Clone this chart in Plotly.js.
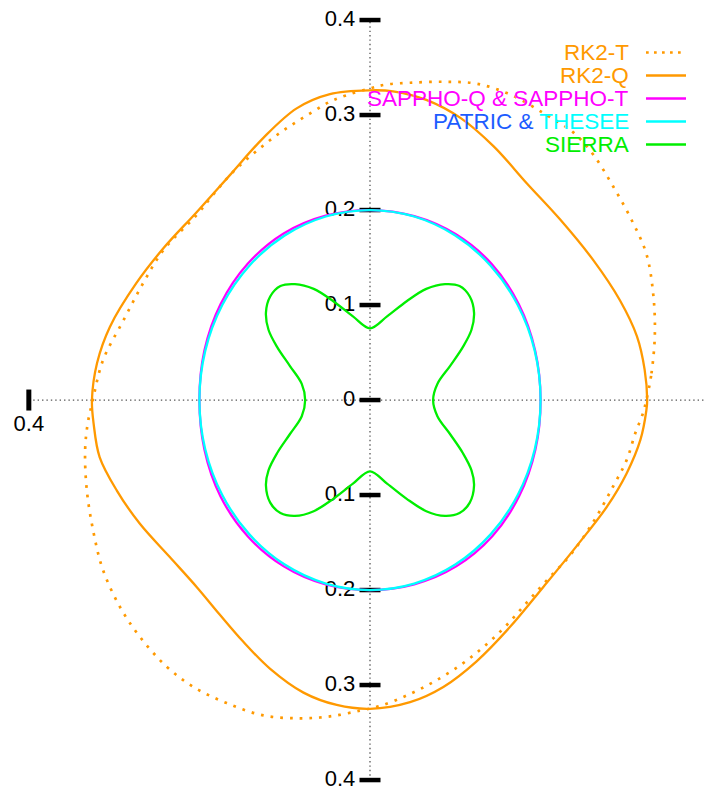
<!DOCTYPE html>
<html><head><meta charset="utf-8">
<script src="https://cdn.plot.ly/plotly-3.0.1.min.js"></script>
<style>html,body{margin:0;padding:0;background:#fff}#chart{width:704px;height:794px}</style>
</head><body><div id="chart"></div>
<script>
// ---- tick data ----
const yTickVals = [0.4, 0.3, 0.2, 0.1, 0, -0.1, -0.2, -0.3, -0.4];
const yTickLabels = ['0.4', '0.3', '0.2', '0.1', '0', '0.1', '0.2', '0.3', '0.4'];
const xTickVals = [-0.4];
const xTickLabels = ['0.4'];

// ---- series names ----
const seriesNames = ['RK2-T', 'RK2-Q', 'SAPPHO-Q & SAPPHO-T', 'PATRIC & THESEE', 'SIERRA'];

// ---- RK2-T (dotted) ----
const rk2tX = [0.324, 0.330, 0.334, 0.332, 0.324, 0.307, 0.285, 0.262, 0.238, 0.207, 0.166, 0.125, 0.086, 0.047, 0.018, 0.000,
  -0.027, -0.047, -0.066, -0.086, -0.106, -0.125, -0.145, -0.164, -0.184, -0.203, -0.242, -0.266, -0.289, -0.313, -0.325,
  -0.331, -0.334, -0.332, -0.324, -0.313, -0.293, -0.270, -0.238, -0.207, -0.168, -0.125, -0.082, -0.047, -0.012,
  0.012, 0.043, 0.074, 0.106, 0.133, 0.158, 0.182, 0.207, 0.235, 0.262, 0.285, 0.301, 0.311, 0.320, 0.324];
const rk2tY = [0.000, 0.028, 0.070, 0.112, 0.154, 0.189, 0.225, 0.258, 0.282, 0.300, 0.321, 0.333, 0.335, 0.334, 0.332, 0.328,
  0.321, 0.314, 0.304, 0.293, 0.281, 0.268, 0.253, 0.237, 0.216, 0.195, 0.158, 0.123, 0.084, 0.042, 0.000,
  -0.025, -0.053, -0.095, -0.140, -0.179, -0.218, -0.249, -0.281, -0.302, -0.319, -0.332, -0.335, -0.333, -0.327,
  -0.322, -0.311, -0.297, -0.279, -0.260, -0.239, -0.215, -0.190, -0.163, -0.128, -0.091, -0.063, -0.035, -0.014, 0.000];

// ---- RK2-Q (solid) ----
const rk2qX = [0.325, 0.322, 0.313, 0.293, 0.262, 0.223, 0.184, 0.145, 0.106, 0.066, 0.027, 0.000,
  -0.047, -0.086, -0.125, -0.164, -0.203, -0.242, -0.274, -0.305, -0.320, -0.326,
  -0.324, -0.317, -0.297, -0.270, -0.235, -0.203, -0.176, -0.149, -0.117, -0.078, -0.039, 0.000,
  0.047, 0.086, 0.125, 0.164, 0.203, 0.242, 0.278, 0.301, 0.317, 0.324, 0.325];
const rk2qY = [0.000, 0.032, 0.067, 0.105, 0.147, 0.190, 0.228, 0.267, 0.297, 0.316, 0.325, 0.326,
  0.322, 0.307, 0.276, 0.237, 0.198, 0.160, 0.123, 0.077, 0.039, 0.000,
  -0.025, -0.060, -0.095, -0.130, -0.165, -0.197, -0.226, -0.254, -0.283, -0.308, -0.321, -0.325,
  -0.318, -0.302, -0.275, -0.239, -0.197, -0.154, -0.112, -0.077, -0.042, -0.011, 0.000];

// ---- near-circular curves, given as angle (deg) / radius ----
const circleThetaDeg = [0, 15, 30, 45, 60, 75, 90, 105, 120, 135, 150, 165, 180, 195, 210, 225, 240, 255, 270, 285, 300, 315, 330, 345, 360];
const sapphoR = [0.200, 0.2005, 0.2015, 0.2022, 0.2015, 0.2005, 0.200, 0.201, 0.2025, 0.2028, 0.2022, 0.201, 0.200,
  0.201, 0.2025, 0.2028, 0.2022, 0.201, 0.200, 0.2008, 0.2022, 0.2028, 0.202, 0.2008, 0.200];
const patricR = [0.200, 0.200, 0.200, 0.200, 0.200, 0.200, 0.200, 0.200, 0.200, 0.200, 0.200, 0.200, 0.200,
  0.200, 0.200, 0.200, 0.200, 0.200, 0.200, 0.200, 0.200, 0.200, 0.200, 0.200, 0.200];

// ---- SIERRA ----
const sierraX = [0.074, 0.079, 0.094, 0.109, 0.119, 0.122, 0.117, 0.105, 0.088, 0.066, 0.043, 0.020, 0.000,
  -0.020, -0.043, -0.066, -0.088, -0.105, -0.117, -0.122, -0.119, -0.109, -0.094, -0.080, -0.076,
  -0.080, -0.094, -0.109, -0.119, -0.122, -0.117, -0.105, -0.088, -0.066, -0.043, -0.020, 0.000,
  0.020, 0.043, 0.066, 0.088, 0.105, 0.117, 0.122, 0.119, 0.109, 0.094, 0.079, 0.074];
const sierraY = [0.000, 0.017, 0.036, 0.056, 0.074, 0.092, 0.109, 0.120, 0.122, 0.117, 0.104, 0.088, 0.0755,
  0.088, 0.104, 0.117, 0.122, 0.120, 0.109, 0.092, 0.074, 0.056, 0.036, 0.017, 0.000,
  -0.017, -0.036, -0.056, -0.074, -0.090, -0.108, -0.119, -0.122, -0.117, -0.104, -0.088, -0.075,
  -0.088, -0.104, -0.117, -0.122, -0.119, -0.108, -0.090, -0.074, -0.056, -0.036, -0.017, 0.000];

// ---- styling ----
const FONT = 'Liberation Sans, Arial, sans-serif';
const ORANGE = '#ff9900', MAGENTA = '#ff00ff', CYAN = '#00ffff', GREEN = '#00ee00', BLUE = '#1c5cff';
const xRange = [-0.4338, 0.3916];
const yRange = [-0.4147, 0.4211];

function polarX(th, r) { return th.map((t, i) => r[i] * Math.cos(t * Math.PI / 180)); }
function polarY(th, r) { return th.map((t, i) => r[i] * Math.sin(t * Math.PI / 180)); }

const traces = [
  // y-axis ticks
  { x: yTickVals.map(() => 0), y: yTickVals, mode: 'markers', hoverinfo: 'skip',
    marker: { symbol: 'line-ew', size: 15, color: '#000', line: { width: 4.5, color: '#000' } } },
  // x-axis tick
  { x: xTickVals, y: xTickVals.map(() => 0), mode: 'markers', hoverinfo: 'skip',
    marker: { symbol: 'line-ns', size: 15, color: '#000', line: { width: 5, color: '#000' } } },
  // y tick labels
  { x: yTickVals.map(() => 0), y: yTickVals, mode: 'markers+text', text: yTickLabels, textposition: 'middle left',
    hoverinfo: 'skip', marker: { size: 22, color: 'rgba(0,0,0,0)' }, textfont: { family: FONT, size: 22, color: '#000' } },
  // x tick labels
  { x: xTickVals, y: xTickVals.map(() => 0), mode: 'markers+text', text: xTickLabels, textposition: 'bottom center',
    hoverinfo: 'skip', marker: { size: 21, color: 'rgba(0,0,0,0)' }, textfont: { family: FONT, size: 22, color: '#000' } },
  // curves
  { name: seriesNames[0], x: rk2tX, y: rk2tY, mode: 'lines',
    line: { color: ORANGE, width: 2.7, dash: '2.7px,7px', shape: 'spline', smoothing: 1 } },
  { name: seriesNames[1], x: rk2qX, y: rk2qY, mode: 'lines',
    line: { color: ORANGE, width: 2.3, shape: 'spline', smoothing: 1 } },
  { name: seriesNames[2], x: polarX(circleThetaDeg, sapphoR), y: polarY(circleThetaDeg, sapphoR), mode: 'lines',
    line: { color: MAGENTA, width: 2.3, shape: 'spline', smoothing: 1 } },
  { name: seriesNames[3], x: polarX(circleThetaDeg, patricR), y: polarY(circleThetaDeg, patricR), mode: 'lines',
    line: { color: CYAN, width: 2.3, shape: 'spline', smoothing: 1 } },
  { name: seriesNames[4], x: sierraX, y: sierraY, mode: 'lines',
    line: { color: GREEN, width: 2.3, shape: 'spline', smoothing: 1 } }
];

// legend (text left of the line sample)
const legendTextHtml = [
  seriesNames[0], seriesNames[1], seriesNames[2].replace('&', '&amp;'),
  '<span style="color:' + BLUE + '">PATRIC &amp; </span><span style="color:' + CYAN + '">THESEE</span>',
  seriesNames[4]
];
const legendTextColors = [ORANGE, ORANGE, MAGENTA, BLUE, GREEN];
const legendLineColors = [ORANGE, ORANGE, MAGENTA, CYAN, GREEN];
const legendDash = ['2.7px,5.3px', 'solid', 'solid', 'solid', 'solid'];
const W = 704, H = 794;
const legTop = 52.5, legStep = 23, legTextRight = 631, legLine0 = 646, legLine1 = 686;

const annotations = legendTextHtml.map((t, i) => ({
  xref: 'paper', yref: 'paper', x: legTextRight / W, y: 1 - (legTop + i * legStep) / H,
  xanchor: 'right', yanchor: 'middle', showarrow: false, text: t,
  font: { family: FONT, size: 22.5, color: legendTextColors[i] }
}));

const shapes = [
  { type: 'line', layer: 'below', xref: 'x', yref: 'y', x0: xTickVals[0], x1: xRange[1], y0: 0, y1: 0,
    line: { color: '#555', width: 1.3, dash: '1.4px,3px' } },
  { type: 'line', layer: 'below', xref: 'x', yref: 'y', x0: 0, x1: 0, y0: yTickVals[yTickVals.length - 1], y1: yTickVals[0],
    line: { color: '#555', width: 1.3, dash: '1.4px,3px' } }
].concat(legendLineColors.map((c, i) => ({
  type: 'line', xref: 'paper', yref: 'paper', x0: legLine0 / W, x1: legLine1 / W,
  y0: 1 - (legTop + i * legStep) / H, y1: 1 - (legTop + i * legStep) / H,
  line: { color: c, width: i === 0 ? 2.7 : 2.3, dash: legendDash[i] }
})));

const layout = {
  width: W, height: H, margin: { l: 0, r: 0, t: 0, b: 0 },
  paper_bgcolor: '#fff', plot_bgcolor: '#fff', showlegend: false,
  xaxis: { range: xRange, visible: false, showgrid: false, zeroline: false, fixedrange: true },
  yaxis: { range: yRange, visible: false, showgrid: false, zeroline: false, fixedrange: true },
  annotations: annotations, shapes: shapes,
  font: { family: FONT }
};

Plotly.newPlot('chart', traces, layout, { staticPlot: true, displayModeBar: false });
</script>
</body></html>
